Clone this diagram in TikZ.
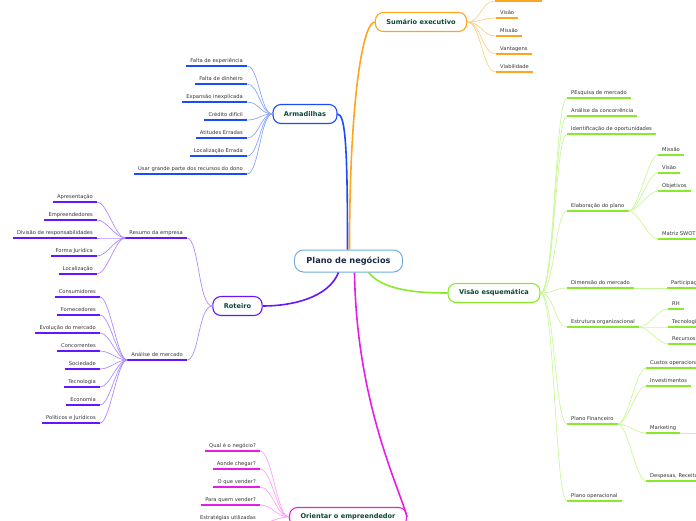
\documentclass[tikz,border=0pt]{standalone}
\usepackage{fontspec}
\setmainfont{DejaVu Sans}
\definecolor{centreblue}{HTML}{72ACDF}
\definecolor{centretext}{HTML}{172747}
\definecolor{topictext}{HTML}{0D4738}
\definecolor{leaftext}{HTML}{333333}
\definecolor{sumorange}{HTML}{FFA41F}
\definecolor{sumlight}{HTML}{FFCF85}
\definecolor{armblue}{HTML}{1A4BFF}
\definecolor{armlight}{HTML}{8CA5FF}
\definecolor{rotpurple}{HTML}{6417FF}
\definecolor{rotlight}{HTML}{AE8CFF}
\definecolor{visgreen}{HTML}{88EA2A}
\definecolor{vislight}{HTML}{CBF79A}
\definecolor{orimagenta}{HTML}{E81CE8}
\definecolor{orilight}{HTML}{FFA0FF}
\tikzset{
  topic/.style={draw=#1, line width=1.1pt, fill=white, rounded corners=8pt,
    minimum height=19pt, inner xsep=11pt,
    font=\fontsize{6.6}{7}\selectfont\bfseries, text=topictext},
  leaf/.style={inner xsep=4pt, inner ysep=2pt, text height=3.9pt,
    text depth=1.2pt, font=\fontsize{5.2}{6}\selectfont, text=leaftext},
  uline/.style={line width=1.6pt, #1},
  link/.style={line width=0.7pt, #1},
  trunk/.style={line width=1.6pt, #1},
}
\begin{document}
\begin{tikzpicture}[x=1pt, y=-1pt]
  \useasboundingbox (0,0) rectangle (696,520);

  % centre and main topics
  \node[draw=centreblue, line width=1pt, fill=white, rounded corners=9pt,
        minimum height=22pt, inner xsep=12pt,
        font=\fontsize{8.2}{9}\selectfont\bfseries, text=centretext]
        (plano) at (348.5,261) {Plano de negócios};
  \node[topic=sumorange] (sum) at (421,22) {Sumário executivo};
  \node[topic=armblue] (arm) at (305,114) {Armadilhas};
  \node[topic=rotpurple] (rot) at (237.5,306) {Roteiro};
  \node[topic=visgreen] (vis) at (494,293) {Visão esquemática};
  \node[topic=orimagenta] (ori) at (348,517) {Orientar o empreendedor};

  \draw[trunk=armblue] ([xshift=-1pt]plano.north) .. controls +(0,-100) and +(8,0) .. (arm.east);
  \draw[trunk=sumorange] ([xshift=1pt]plano.north) .. controls +(0,-150) and +(-12,0) .. (sum.west);
  \draw[trunk=rotpurple] ([xshift=-10pt]plano.south) .. controls +(-10,25) and +(30,0) .. (rot.east);
  \draw[trunk=visgreen] ([xshift=20pt]plano.south) .. controls +(15,18) and +(-30,0) .. (vis.west);
  \draw[trunk=orimagenta] ([xshift=6pt]plano.south) .. controls +(2,130) and +(-8,-30) .. (ori.east);

  % Sumario executivo
  \coordinate (sum0) at (495,1);
  \draw[uline=sumorange] (sum0) -- ++(47,0);
  \draw[link=sumlight] (sum.east) .. controls +(14,0) and +(-14,0) .. (sum0);
  \foreach \txt/\yy [count=\i] in {Visão/18, Missão/36, Vantagens/54, Viabilidade/72}{
    \node[leaf, anchor=south west] (sum\i) at (496,\yy) {\txt};
    \draw[uline=sumorange] (sum\i.south west) -- (sum\i.south east);
    \draw[link=sumlight] (sum.east) .. controls +(14,0) and +(-14,0) .. (sum\i.south west);
  }

  % Armadilhas
  \foreach \txt/\yy [count=\i] in {Falta de experiência/66, Falta de dinheiro/84,
      Expansão inexplicada/102, Crédito difícil/120, Atitudes Erradas/138,
      Localização Errada/156, Usar grande parte dos recursos do dono/174}{
    \node[leaf, anchor=south east] (arm\i) at (247,\yy) {\txt};
    \draw[uline=armblue] (arm\i.south west) -- (arm\i.south east);
    \draw[link=armlight] (arm\i.south east) .. controls +(12,0) and +(-12,0) .. (arm.west);
  }

  % Roteiro
  \node[leaf, anchor=south east] (resumo) at (187,238) {Resumo da empresa};
  \node[leaf, anchor=south east] (analise) at (187,360) {Análise de mercado};
  \foreach \nm in {resumo, analise}{
    \draw[uline=rotpurple] (\nm.south west) -- (\nm.south east);
    \draw[link=rotlight] (rot.west) .. controls +(-14,0) and +(12,0) .. (\nm.south east);
  }
  \foreach \txt/\yy [count=\i] in {Apresentação/202, Empreendedores/220,
      Divisão de responsabilidades/238, Forma Jurídica/256, Localização/274}{
    \node[leaf, anchor=south east] (res\i) at (97,\yy) {\txt};
    \draw[uline=rotpurple] (res\i.south west) -- (res\i.south east);
    \draw[link=rotlight] (res\i.south east) .. controls +(10,0) and +(-10,0) .. (resumo.south west);
  }
  \foreach \txt/\yy [count=\i] in {Consumidores/297, Fornecedores/315,
      Evolução do mercado/333, Concorrentes/351, Sociedade/369, Tecnologia/387,
      Economia/405, Políticos e Jurídicos/423}{
    \node[leaf, anchor=south east] (ana\i) at (100,\yy) {\txt};
    \draw[uline=rotpurple] (ana\i.south west) -- (ana\i.south east);
    \draw[link=rotlight] (ana\i.south east) .. controls +(10,0) and +(-10,0) .. (analise.south west);
  }

  % Orientar o empreendedor
  \foreach \txt/\yy [count=\i] in {Qual é o negócio?/451, Aonde chegar?/469,
      O que vender?/487, Para quem vender?/505, Estratégias utilizadas/523}{
    \node[leaf, anchor=south east] (ori\i) at (260,\yy) {\txt};
    \draw[uline=orimagenta] (ori\i.south west) -- (ori\i.south east);
    \draw[link=orilight] (ori\i.south east) .. controls +(12,0) and +(-12,0) .. (ori.west);
  }

  % Visao esquematica
  \foreach \nm/\txt/\yy in {pesq/PEsquisa de mercado/98, conc/Análise da concorrência/116,
      opor/Identificação de oportunidades/134, elab/Elaboração do plano/211,
      dim/Dimensão do mercado/288, estr/Estrutura organizacional/327,
      fin/Plano Financeiro/424, oper/Plano operacional/501}{
    \node[leaf, anchor=south west] (\nm) at (567,\yy) {\txt};
    \draw[uline=visgreen] (\nm.south west) -- (\nm.south east);
    \draw[link=vislight] (vis.east) .. controls +(14,0) and +(-12,0) .. (\nm.south west);
  }
  \foreach \txt/\yy [count=\i] in {Missão/155, Visão/173, Objetivos/191, Matriz SWOT/239}{
    \node[leaf, anchor=south west] (elab\i) at (658,\yy) {\txt};
    \draw[uline=visgreen] (elab\i.south west) -- (elab\i.south east);
    \draw[link=vislight] (elab.south east) .. controls +(10,0) and +(-10,0) .. (elab\i.south west);
  }
  \node[leaf, anchor=south west] (dim1) at (667,288) {Participação};
  \draw[uline=visgreen] (dim1.south west) -- (dim1.south east);
  \draw[link=vislight] (dim.south east) -- (dim1.south west);
  \foreach \txt/\yy [count=\i] in {RH/309, Tecnologia/327, Recursos/344}{
    \node[leaf, anchor=south west] (estr\i) at (668,\yy) {\txt};
    \draw[uline=visgreen] (estr\i.south west) -- (estr\i.south east);
    \draw[link=vislight] (estr.south east) .. controls +(10,0) and +(-10,0) .. (estr\i.south west);
  }
  \foreach \txt/\yy [count=\i] in {Custos operacionais/368, Investimentos/386,
      Marketing/433, {Despesas, Receitas}/481}{
    \node[leaf, anchor=south west] (fin\i) at (646,\yy) {\txt};
    \draw[uline=visgreen] (fin\i.south west) -- (fin\i.south east);
    \draw[link=vislight] (fin.south east) .. controls +(10,0) and +(-10,0) .. (fin\i.south west);
  }
  \coordinate (mktout) at (700,433);
  \draw[link=vislight] (fin3.south east) -- (mktout);
\end{tikzpicture}
\end{document}
